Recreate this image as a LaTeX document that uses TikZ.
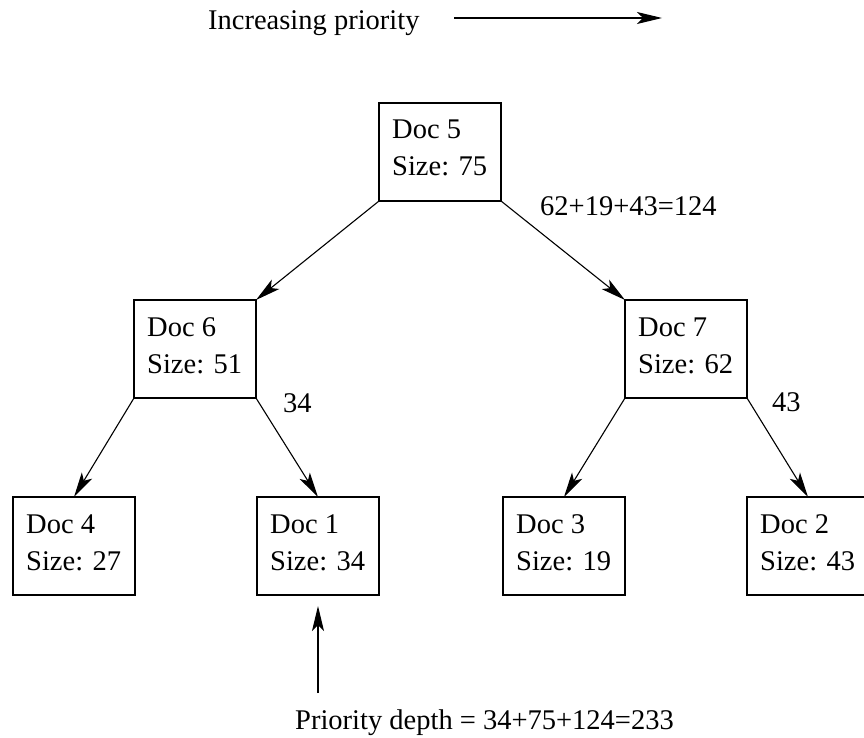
\documentclass[tikz,border=0pt]{standalone}
\usepackage{fontspec}
\setmainfont{Liberation Serif}
\usetikzlibrary{arrows.meta,calc}
\newcommand\docnode[5]{%
  \node[docbox] (#1) at (#2+61,#3+49) {};
  \node[txt] (#1a) at (#2+13,#3+36) {#4};
  \node[txt] (#1b) at (#2+13,#3+73) {#5};
}
\begin{document}
\begin{tikzpicture}[x=1pt,y=-1pt,
  docbox/.style={draw, line width=1.1pt, minimum width=122pt, minimum height=98pt, inner sep=0pt, outer sep=0pt},
  txt/.style={font=\fontsize{28.5}{37}\selectfont, inner sep=0pt, anchor=base west},
  conn/.style={line width=1.1pt, -{Stealth[length=25pt,width=12pt,inset=6pt]}}]
\useasboundingbox (0,0) rectangle (864,738);

\docnode{d5}{379}{103}{Doc 5}{Size: 75}
\docnode{d6}{134}{300}{Doc 6}{Size: 51}
\docnode{d7}{625}{300}{Doc 7}{Size: 62}
\docnode{d4}{13}{497}{Doc 4}{Size: 27}
\docnode{d1}{257}{497}{Doc 1}{Size: 34}
\docnode{d3}{503}{497}{Doc 3}{Size: 19}
\docnode{d2}{747}{497}{Doc 2}{Size: 43}

\draw[conn] (d5.south west) -- (d6.north east);
\draw[conn] (d5.south east) -- (d7.north west);
\draw[conn] (d6.south west) -- (d4.north);
\draw[conn] (d6.south east) -- (d1.north);
\draw[conn] (d7.south west) -- (d3.north);
\draw[conn] (d7.south east) -- (d2.north);

\node[txt] (inc) at (208,30) {Increasing priority};
\coordinate (ia) at (454,18);
\coordinate (ib) at (662,18);
\draw[conn] (ia) -- (ib);

\node[txt] (l124) at (540,215) {62+19+43=124};
\node[txt] (l34) at (283,412) {34};
\node[txt] (l43) at (772,411) {43};

\coordinate (pa) at (318,693);
\draw[conn] (pa) -- ($(d1.south)+(0,11)$);
\node[txt] (pd) at (295,729) {Priority depth = 34+75+124=233};
\end{tikzpicture}
\end{document}
